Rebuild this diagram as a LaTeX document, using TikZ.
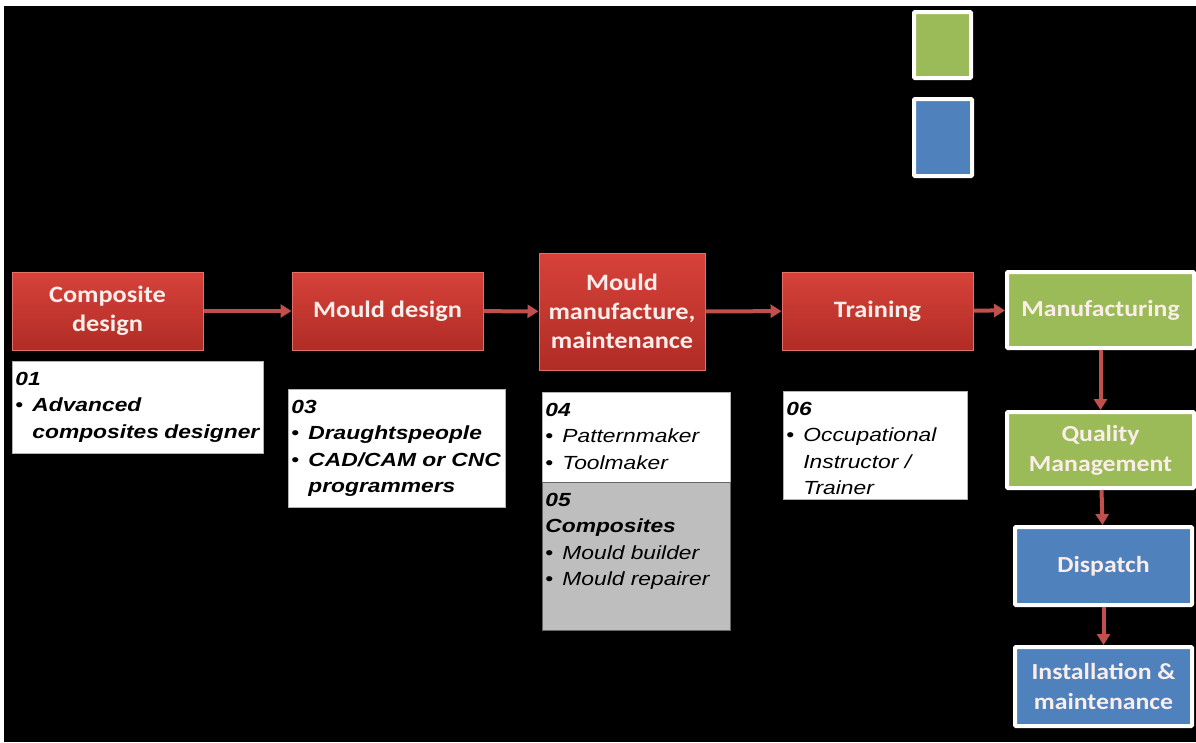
\documentclass[tikz,border=0pt]{standalone}
\usepackage{fontspec}
\usetikzlibrary{arrows.meta}
\newfontfamily\hdfont[FakeStretch=1.12]{Carlito}
\newfontfamily\arfont[FakeStretch=1.2]{Liberation Sans}
\definecolor{redtop}{HTML}{D6423A}
\definecolor{redbot}{HTML}{B02C25}
\definecolor{redline}{HTML}{E2706A}
\definecolor{arrred}{HTML}{C0504D}
\definecolor{grn}{HTML}{9BBB59}
\definecolor{blu}{HTML}{4F81BD}
\definecolor{greybox}{HTML}{BEBEBE}
\definecolor{lighttext}{HTML}{FBEDEA}
\newcommand{\wtext}[3]{\begin{minipage}[t][#2][t]{#1}\arfont\fontsize{19}{26.5}\selectfont\rule{0pt}{21pt}#3\end{minipage}}
\newcommand{\bul}{\makebox[17pt][l]{•}}
\newcommand{\ind}{\hspace*{17pt}}
\newcommand{\bi}[1]{\textbf{\textit{#1}}}
\tikzset{
  x=1pt, y=-1pt,
  redbox/.style={draw=redline, line width=1pt, top color=redtop, bottom color=redbot,
    text=lighttext, font=\hdfont\bfseries\fontsize{23.5}{29}\selectfont, align=center,
    inner sep=0pt},
  grnbox/.style={draw=white, line width=4pt, fill=grn, text=lighttext, rounded corners=1pt,
    font=\hdfont\bfseries\fontsize{23}{30}\selectfont, align=center, inner sep=0pt},
  blubox/.style={grnbox, fill=blu},
  wbox/.style={draw=gray!60, line width=0.8pt, fill=white, inner sep=3pt, anchor=north west, text=black},
  gbox/.style={wbox, fill=greybox, draw=gray!80!black},
  arr/.style={draw=arrred, line width=4pt, -{Triangle[length=11pt,width=13pt]}}
}
\begin{document}
\begin{tikzpicture}
\useasboundingbox (0,0) rectangle (1196,742);
\fill[white] (0,0) rectangle (1196,742);
\fill[black] (4,6) rectangle (1196,742);

% legend squares
\node[grnbox, minimum width=57pt, minimum height=66pt] (lg) at (942.5,45) {};
\node[blubox, minimum width=58pt, minimum height=77pt] (lb) at (943,137.5) {};

% red process boxes
\node[redbox, minimum width=191pt, minimum height=78pt] (r1) at (107.5,311) {Composite\\design};
\node[redbox, minimum width=191pt, minimum height=78pt] (r2) at (387.5,311) {Mould design};
\node[redbox, minimum width=166pt, minimum height=117pt] (r3) at (622,311.5) {Mould\\manufacture,\\maintenance};
\node[redbox, minimum width=191pt, minimum height=78pt] (r4) at (877.5,311) {Training};

% green / blue boxes
\node[grnbox, minimum width=187pt, minimum height=76pt] (m) at (1100.5,310) {Manufacturing};
\node[grnbox, minimum width=187pt, minimum height=76pt] (q) at (1100.5,450) {Quality\\Management};
\node[blubox, minimum width=177pt, minimum height=78pt] (d) at (1103.5,566) {Dispatch};
\node[blubox, minimum width=177pt, minimum height=79pt] (i) at (1103.5,686.5) {Installation \&\\maintenance};

% occupation boxes
\node[wbox] (w1) at (12,361) {\wtext{245pt}{86pt}{\bi{01}\\\bul\bi{Advanced}\\\ind\bi{composites designer}}};
\node[wbox] (w3) at (288,389) {\wtext{211pt}{112pt}{\bi{03}\\\bul\bi{Draughtspeople}\\\bul\bi{CAD/CAM or CNC}\\\ind\bi{programmers}}};
\node[wbox] (w4) at (542,392) {\wtext{182pt}{84pt}{\bi{04}\\\bul\textit{Patternmaker}\\\bul\textit{Toolmaker}}};
\node[gbox] (w5) at (542,482) {\wtext{182pt}{142pt}{\bi{05}\\\bi{Composites}\\\bul\textit{Mould builder}\\\bul\textit{Mould repairer}}};
\node[wbox] (w6) at (783,391) {\wtext{178pt}{102pt}{\bi{06}\\\bul\textit{Occupational}\\\ind\textit{Instructor /}\\\ind\textit{Trainer}}};

% connectors
\draw[arr] (r1) -- (r2);
\draw[arr] (r2) -- (r3);
\draw[arr] (r3) -- (r4);
\draw[arr] (r4) -- (m);
\draw[arr] (m) -- (q);
\draw[arr] (q) -- (d);
\draw[arr] (d) -- (i);
\end{tikzpicture}
\end{document}
